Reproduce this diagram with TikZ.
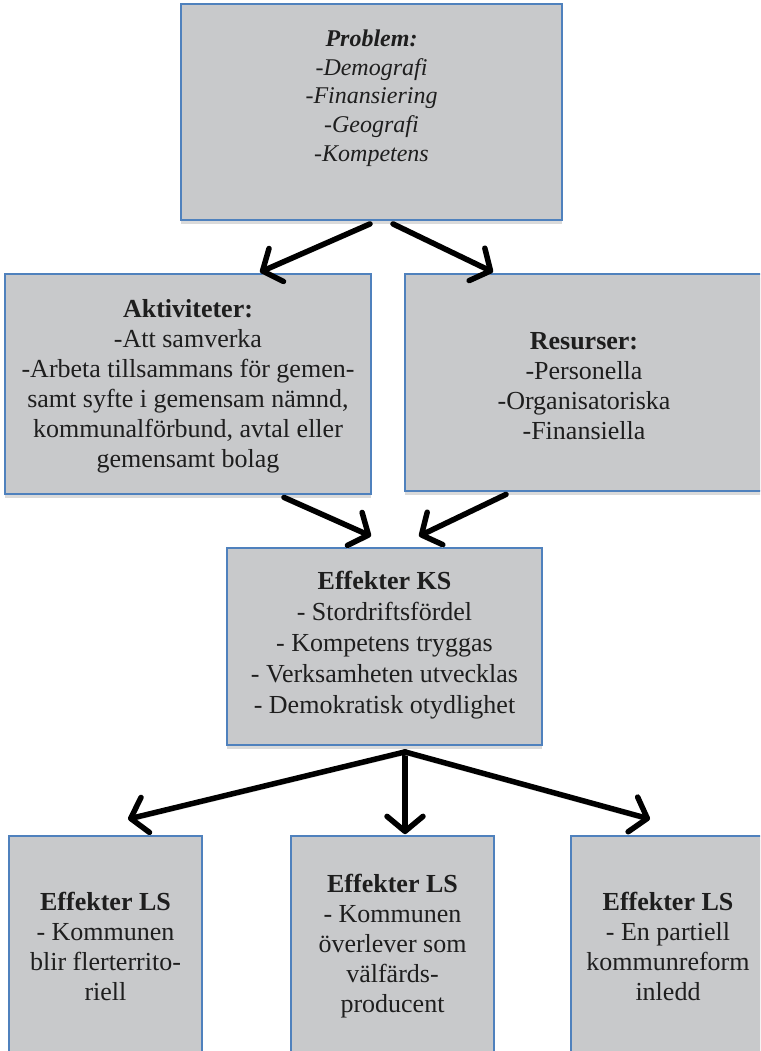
\documentclass[tikz,border=0pt]{standalone}
\usepackage{fontspec}
\setmainfont{Liberation Serif}
\usetikzlibrary{arrows.meta,shadows}
\definecolor{boxfill}{RGB}{200,201,203}
\definecolor{boxline}{RGB}{79,129,189}
\definecolor{shadowgray}{RGB}{218,218,218}
\definecolor{textcol}{RGB}{30,30,30}
\begin{document}
\begin{tikzpicture}[x=1pt,y=-1pt,
  box/.style={draw=boxline, line width=1.8pt, fill=boxfill, rectangle, inner sep=0pt,
    drop shadow={shadow xshift=0pt, shadow yshift=-4pt, fill=shadowgray, opacity=1}},
  txt/.style={align=center, text=textcol, font=\fontsize{26}{30}\selectfont, inner sep=0pt},
  arr/.style={line width=5.5pt, line cap=round, line join=round,
    -{Straight Barb[length=15pt,width=36pt,line cap=round,line join=round]},
    preaction={draw=shadowgray, transform canvas={yshift=-3pt}}}
]
\useasboundingbox (0,0) rectangle (760,1051);
\clip (0,0) rectangle (760,1051);

% boxes
\node[box, minimum width=381pt, minimum height=216pt] (prob) at (371.5,112) {};
\node[box, minimum width=366pt, minimum height=220pt] (akt) at (188,384) {};
\node[box, minimum width=358pt, minimum height=217pt] (res) at (584,382.5) {};
\node[box, minimum width=315pt, minimum height=197pt] (ks) at (384.5,646.5) {};
\node[box, minimum width=193pt, minimum height=218pt] (ls1) at (105.5,945) {};
\node[box, minimum width=203pt, minimum height=218pt] (ls2) at (392.5,945) {};
\node[box, minimum width=194pt, minimum height=218pt] (ls3) at (668,945) {};

% texts
\node[txt, font=\itshape\fontsize{24}{28.7}\selectfont] (probt) at (371.5,98)
  {\textbf{Problem:}\\-Demografi\\-Finansiering\\-Geografi\\-Kompetens};
\node[txt] (aktt) at (188,386)
  {\textbf{Aktiviteter:}\\-Att samverka\\-Arbeta tillsammans för gemen-\\samt syfte i gemensam nämnd,\\kommunalförbund, avtal eller\\gemensamt bolag};
\node[txt] (rest) at (584,386)
  {\textbf{Resurser:}\\-Personella\\-Organisatoriska\\-Finansiella};
\node[txt, font=\fontsize{26}{31}\selectfont] (kst) at (384.5,645)
  {\textbf{Effekter KS}\\- Stordriftsfördel\\- Kompetens tryggas\\- Verksamheten utvecklas\\- Demokratisk otydlighet};
\node[txt] (ls1t) at (105.5,946)
  {\textbf{Effekter LS}\\- Kommunen\\blir flerterrito-\\riell};
\node[txt] (ls2t) at (392.5,946)
  {\textbf{Effekter LS}\\- Kommunen\\överlever som\\välfärds-\\producent};
\node[txt] (ls3t) at (668,946)
  {\textbf{Effekter LS}\\- En partiell\\kommunreform\\inledd};

% arrows
\draw[arr] ([xshift=-1.5pt,yshift=-3pt]prob.south) -- ([xshift=72pt,yshift=1pt]akt.north);
\draw[arr] ([xshift=21.5pt,yshift=-3pt]prob.south) -- ([xshift=-91pt,yshift=1pt]res.north);
\draw[arr] ([xshift=96pt,yshift=-2.5pt]akt.south) -- ([xshift=-13.5pt,yshift=11pt]ks.north);
\draw[arr] ([xshift=-78pt,yshift=-2.5pt]res.south) -- ([xshift=34.5pt,yshift=11pt]ks.north);
\coordinate (ksout) at ([xshift=20.5pt,yshift=-6pt]ks.south);
\draw[arr] (ksout) -- ([xshift=22.5pt,yshift=16pt]ls1.north);
\draw[arr] (ksout) -- ([xshift=12.5pt,yshift=1pt]ls2.north);
\draw[arr] (ksout) -- ([xshift=-18pt,yshift=16pt]ls3.north);
\end{tikzpicture}
\end{document}
